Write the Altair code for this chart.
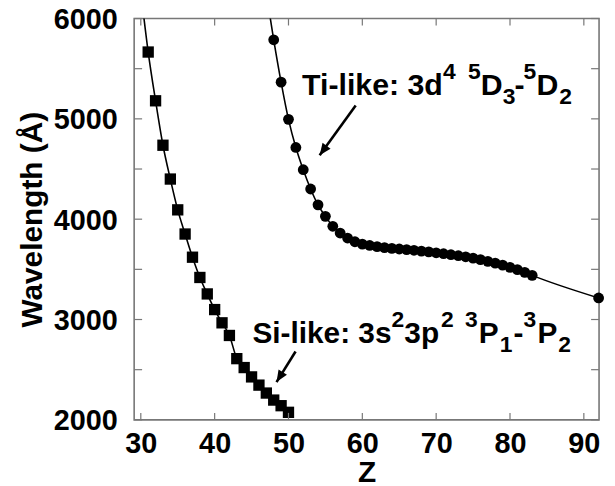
import altair as alt
import pandas as pd

# ---- data ----
si_z = list(range(31, 51))
si_lam = [5666, 5180, 4737, 4400, 4093, 3852, 3621, 3419, 3255, 3099,
          2967, 2841, 2610, 2521, 2428, 2346, 2267, 2197, 2141, 2075]
si_fit_z = [30] + si_z
si_fit_lam = [6270] + si_lam

ti_z = list(range(48, 84)) + [92]
ti_lam = [5788, 5366, 4995, 4715, 4493, 4301, 4143, 4028, 3929, 3862,
          3812, 3775, 3752, 3738, 3726, 3716, 3709, 3703, 3697, 3690,
          3682, 3674, 3665, 3656, 3646, 3636, 3625, 3612, 3597, 3580,
          3562, 3542, 3520, 3497, 3470, 3440, 3215]
ti_fit_z = [47] + ti_z
ti_fit_lam = [6250] + ti_lam

x_ticks = [30, 40, 50, 60, 70, 80, 90]
x_labels = [30, 40, 50, 60, 70, 80, 90]
y_ticks = [2000, 2500, 3000, 3500, 4000, 4500, 5000, 5500, 6000]
y_labels = [2000, 3000, 4000, 5000, 6000]

# annotations (data units)
ti_txt = ["Ti-like: 3d", "4", "5", "D", "3", "-", "5", "D", "2"]
ti_tz = [51.84, 70.94, 74.30, 76.05, 79.01, 80.62, 81.83, 83.58, 86.68]
ti_tl = [5241, 5399, 5399, 5241, 5152, 5241, 5399, 5241, 5152]
ti_ts = [30.5, 23, 23, 30.5, 23, 30.5, 23, 30.5, 23]

si_txt = ["Si-like: 3s", "2", "3p", "2", "3", "P", "1", "-", "3", "P", "2"]
si_tz = [45.11, 63.94, 65.69, 70.67, 73.90, 75.78, 78.61, 80.49, 81.84, 83.72, 86.55]
si_tl = [2765, 2923, 2765, 2923, 2923, 2765, 2676, 2765, 2923, 2765, 2676]
si_ts = [30, 23, 30, 23, 23, 30, 23, 30, 23, 30, 23]

arrow_z = [59.10, 50.96]
arrow_lam = [5132, 2681]
arrow_z2 = [54.22, 48.38]
arrow_lam2 = [4637, 2376]
arrow_angle = [216, 212]

FONT = "Liberation Sans"
GREY = "#777777"

xs = alt.Scale(domain=[29.1, 92.06], nice=False, zero=False)
ys = alt.Scale(domain=[2000, 6000], nice=False, zero=False)

si_fit = pd.DataFrame({"z": si_fit_z, "lam": si_fit_lam})
si_pts = pd.DataFrame({"z": si_z, "lam": si_lam})
ti_fit = pd.DataFrame({"z": ti_fit_z, "lam": ti_fit_lam})
ti_pts = pd.DataFrame({"z": ti_z, "lam": ti_lam})

X = alt.X("z:Q", scale=xs, axis=alt.Axis(
    values=x_labels, format="d", title="Z", grid=False, ticks=False, tickSize=0,
    domain=False, labelFont=FONT, labelFontSize=29, labelFontWeight="bold",
    labelColor="black", labelPadding=10, labelFlush=False,
    titleFont=FONT, titleFontSize=30, titleFontWeight="bold", titleColor="black",
    titleX=234, titleY=62, titleBaseline="alphabetic", titleAlign="center"))
Y = alt.Y("lam:Q", scale=ys, axis=alt.Axis(
    values=y_labels, format="d", title="Wavelength (Å)", grid=False, ticks=False,
    tickSize=0, domain=False, labelFont=FONT, labelFontSize=29,
    labelFontWeight="bold", labelColor="black", labelPadding=17, labelFlush=False,
    labelOffset=1,
    titleFont=FONT, titleFontSize=30, titleFontWeight="bold", titleColor="black",
    titleX=-93, titleY=202, titleAngle=270, titleBaseline="alphabetic",
    titleAlign="center"))

si_line = alt.Chart(si_fit).mark_line(color="black", strokeWidth=1.6, clip=True,
                                      interpolate="monotone").encode(x=X, y=Y)
si_mark = alt.Chart(si_pts).mark_point(shape="square", filled=True, size=130,
                                       color="black", opacity=1).encode(x="z:Q", y="lam:Q")
ti_line = alt.Chart(ti_fit).mark_line(color="black", strokeWidth=1.6, clip=True,
                                      interpolate="monotone").encode(x="z:Q", y="lam:Q")
ti_mark = alt.Chart(ti_pts).mark_point(shape="circle", filled=True, size=118,
                                       color="black", opacity=1).encode(x="z:Q", y="lam:Q")

xt = pd.DataFrame({"z": x_ticks})
yt = pd.DataFrame({"lam": y_ticks})
tick_b = alt.Chart(xt).mark_rule(color=GREY, strokeWidth=1.2).encode(
    x="z:Q", y=alt.value(404), y2=alt.value(397))
tick_t = alt.Chart(xt).mark_rule(color=GREY, strokeWidth=1.2).encode(
    x="z:Q", y=alt.value(0), y2=alt.value(7))
tick_l = alt.Chart(yt).mark_rule(color=GREY, strokeWidth=1.2).encode(
    y="lam:Q", x=alt.value(0), x2=alt.value(8))
tick_r = alt.Chart(yt).mark_rule(color=GREY, strokeWidth=1.2).encode(
    y="lam:Q", x=alt.value(468), x2=alt.value(460))

arr = pd.DataFrame({"z": arrow_z, "lam": arrow_lam, "z2": arrow_z2,
                    "lam2": arrow_lam2, "ang": arrow_angle})
arrow_line = alt.Chart(arr).mark_rule(color="black", strokeWidth=2.6).encode(
    x="z:Q", y="lam:Q", x2="z2:Q", y2="lam2:Q")
arrow_head = alt.Chart(arr).mark_point(
    shape="M0,0 L-0.42,1 L0.42,1 Z", filled=True, size=560, color="black",
    opacity=1).encode(x="z2:Q", y="lam2:Q", angle=alt.Angle("ang:Q", scale=None))

def text_layer(txt, zz, ll, ss):
    df = pd.DataFrame({"t": txt, "z": zz, "lam": ll, "s": ss})
    return alt.Chart(df).mark_text(align="left", baseline="alphabetic", font=FONT,
                                   fontWeight="bold", color="black").encode(
        x="z:Q", y="lam:Q", text="t:N", size=alt.Size("s:Q", scale=None))

ti_text = text_layer(ti_txt, ti_tz, ti_tl, ti_ts)
si_text = text_layer(si_txt, si_tz, si_tl, si_ts)

chart = alt.layer(
    si_line, ti_line, si_mark, ti_mark,
    tick_b, tick_t, tick_l, tick_r,
    arrow_line, arrow_head, ti_text, si_text
).properties(
    width=468, height=404,
    padding={"left": 127, "top": 9, "right": 8, "bottom": 64},
    autosize=alt.AutoSizeParams(type="none"),
    background="white",
).configure_view(stroke=GREY, strokeWidth=1.6)

chart.save("out.html", embed_options={"renderer": "svg", "actions": False})
